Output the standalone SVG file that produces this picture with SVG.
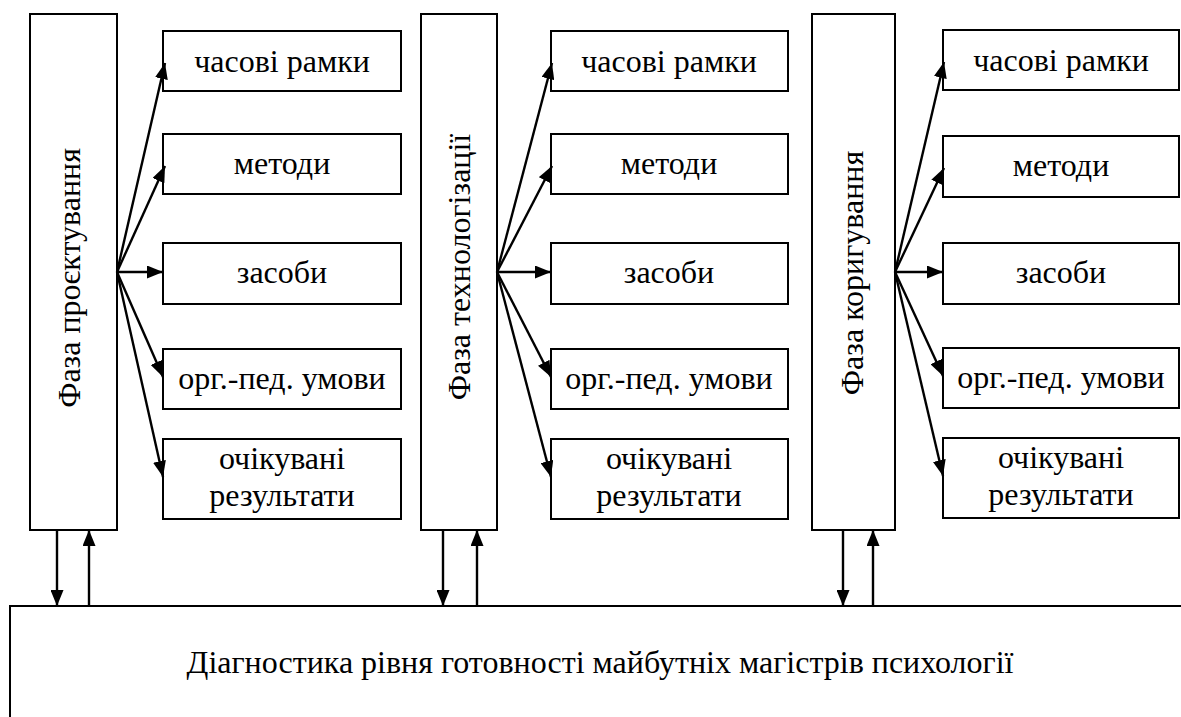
<svg xmlns="http://www.w3.org/2000/svg" width="1181" height="717" viewBox="0 0 1181 717">
  <defs>
    <marker id="arr" viewBox="0 0 16 13" refX="16" refY="6.5" markerWidth="16" markerHeight="13" markerUnits="userSpaceOnUse" orient="auto">
      <path d="M0,0 L16,6.5 L0,13 Z" fill="#000"/>
    </marker>
  </defs>

  <!-- boxes and labels: shared looks set on the parent group -->
  <g fill="#fff" stroke="#000" stroke-width="2">

  <!-- bottom block -->
  <g id="diagnostics">
    <rect x="10" y="606" width="1190" height="130"/>
    <text x="600" y="673" font-family="Liberation Serif" font-size="32" text-anchor="middle" fill="#000" stroke="none">Діагностика рівня готовності майбутніх магістрів психології</text>
  </g>

  <!-- phase 1 -->
  <g id="phase1">
    <rect x="30" y="14" width="87" height="516"/>
    <text transform="translate(80,278) rotate(-90)" font-family="Liberation Serif" font-size="32" text-anchor="middle" fill="#000" stroke="none">Фаза проєктування</text>
  </g>
  <g id="p1-time"><rect x="163" y="31" width="238" height="60"/><text x="282" y="72" font-family="Liberation Serif" font-size="32" text-anchor="middle" fill="#000" stroke="none">часові рамки</text></g>
  <g id="p1-methods"><rect x="163" y="134" width="238" height="60"/><text x="282" y="174" font-family="Liberation Serif" font-size="32" text-anchor="middle" fill="#000" stroke="none">методи</text></g>
  <g id="p1-means"><rect x="163" y="243" width="238" height="61"/><text x="282" y="283" font-family="Liberation Serif" font-size="32" text-anchor="middle" fill="#000" stroke="none">засоби</text></g>
  <g id="p1-cond"><rect x="163" y="349" width="238" height="60"/><text x="282" y="389" font-family="Liberation Serif" font-size="32" text-anchor="middle" fill="#000" stroke="none">орг.-пед. умови</text></g>
  <g id="p1-results"><rect x="163" y="439" width="238" height="80"/><text x="282" y="469" font-family="Liberation Serif" font-size="32" text-anchor="middle" fill="#000" stroke="none">очікувані</text><text x="282" y="506" font-family="Liberation Serif" font-size="32" text-anchor="middle" fill="#000" stroke="none">результати</text></g>

  <!-- phase 2 -->
  <g id="phase2">
    <rect x="421" y="14" width="76" height="516"/>
    <text transform="translate(470,267) rotate(-90)" font-family="Liberation Serif" font-size="32" text-anchor="middle" fill="#000" stroke="none">Фаза технологізації</text>
  </g>
  <g id="p2-time"><rect x="551" y="31" width="237" height="60"/><text x="669" y="72" font-family="Liberation Serif" font-size="32" text-anchor="middle" fill="#000" stroke="none">часові рамки</text></g>
  <g id="p2-methods"><rect x="551" y="134" width="237" height="60"/><text x="669" y="174" font-family="Liberation Serif" font-size="32" text-anchor="middle" fill="#000" stroke="none">методи</text></g>
  <g id="p2-means"><rect x="551" y="243" width="237" height="61"/><text x="669" y="283" font-family="Liberation Serif" font-size="32" text-anchor="middle" fill="#000" stroke="none">засоби</text></g>
  <g id="p2-cond"><rect x="551" y="349" width="237" height="60"/><text x="669" y="389" font-family="Liberation Serif" font-size="32" text-anchor="middle" fill="#000" stroke="none">орг.-пед. умови</text></g>
  <g id="p2-results"><rect x="551" y="439" width="237" height="80"/><text x="669" y="469" font-family="Liberation Serif" font-size="32" text-anchor="middle" fill="#000" stroke="none">очікувані</text><text x="669" y="506" font-family="Liberation Serif" font-size="32" text-anchor="middle" fill="#000" stroke="none">результати</text></g>

  <!-- phase 3 -->
  <g id="phase3">
    <rect x="812" y="14" width="83" height="516"/>
    <text transform="translate(863,273) rotate(-90)" font-family="Liberation Serif" font-size="32" text-anchor="middle" fill="#000" stroke="none">Фаза коригування</text>
  </g>
  <g id="p3-time"><rect x="943" y="30" width="236" height="60"/><text x="1061" y="71" font-family="Liberation Serif" font-size="32" text-anchor="middle" fill="#000" stroke="none">часові рамки</text></g>
  <g id="p3-methods"><rect x="943" y="136" width="236" height="61"/><text x="1061" y="176" font-family="Liberation Serif" font-size="32" text-anchor="middle" fill="#000" stroke="none">методи</text></g>
  <g id="p3-means"><rect x="943" y="243" width="236" height="61"/><text x="1061" y="283" font-family="Liberation Serif" font-size="32" text-anchor="middle" fill="#000" stroke="none">засоби</text></g>
  <g id="p3-cond"><rect x="943" y="348" width="236" height="60"/><text x="1061" y="388" font-family="Liberation Serif" font-size="32" text-anchor="middle" fill="#000" stroke="none">орг.-пед. умови</text></g>
  <g id="p3-results"><rect x="943" y="438" width="236" height="80"/><text x="1061" y="468" font-family="Liberation Serif" font-size="32" text-anchor="middle" fill="#000" stroke="none">очікувані</text><text x="1061" y="505" font-family="Liberation Serif" font-size="32" text-anchor="middle" fill="#000" stroke="none">результати</text></g>
  </g>

  <!-- connectors -->
  <g id="connectors" stroke="#000" stroke-width="2.4" fill="none" marker-end="url(#arr)">
    <line x1="117" y1="272" x2="165" y2="63"/>
    <line x1="117" y1="272" x2="165" y2="166"/>
    <line x1="117" y1="272" x2="163" y2="272"/>
    <line x1="117" y1="272" x2="163" y2="377"/>
    <line x1="117" y1="272" x2="163" y2="477"/>

    <line x1="497" y1="272" x2="552" y2="63"/>
    <line x1="497" y1="272" x2="552" y2="166"/>
    <line x1="497" y1="272" x2="551" y2="272"/>
    <line x1="497" y1="272" x2="551" y2="377"/>
    <line x1="497" y1="272" x2="551" y2="477"/>

    <line x1="895" y1="272" x2="944" y2="62"/>
    <line x1="895" y1="272" x2="944" y2="168"/>
    <line x1="895" y1="272" x2="943" y2="272"/>
    <line x1="895" y1="272" x2="943" y2="376"/>
    <line x1="895" y1="272" x2="943" y2="476"/>

    <line x1="57" y1="530" x2="57" y2="606"/>
    <line x1="89" y1="606" x2="89" y2="530"/>
    <line x1="443" y1="530" x2="443" y2="606"/>
    <line x1="477" y1="606" x2="477" y2="530"/>
    <line x1="843" y1="530" x2="843" y2="606"/>
    <line x1="873" y1="606" x2="873" y2="530"/>
  </g>
</svg>
